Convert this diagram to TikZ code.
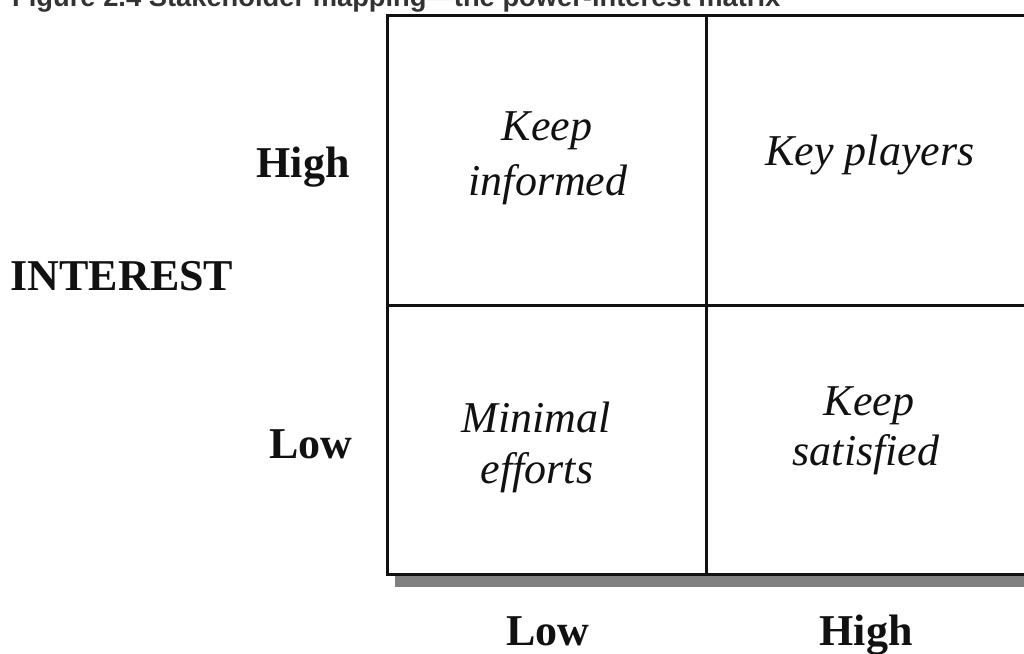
\documentclass[tikz,border=0pt]{standalone}
\usepackage{fontspec}
\setmainfont{Liberation Serif}
\newfontfamily\titlefont{Liberation Sans}
\definecolor{titlegray}{HTML}{333333}
\definecolor{shadowgray}{HTML}{808080}
\definecolor{ink}{HTML}{111111}
\tikzset{
  celltext/.style={anchor=base, inner sep=0pt, text=ink, font=\fontsize{44}{53}\selectfont\itshape},
  axistext/.style={anchor=base, inner sep=0pt, text=ink, font=\fontsize{44}{53}\selectfont\bfseries},
  frame/.style={line width=3pt, draw=ink},
}
\begin{document}
\begin{tikzpicture}[x=1pt,y=-1pt]
\useasboundingbox (0,0) rectangle (1024,653);
\clip (0,0) rectangle (1024,653);
\fill[white] (0,0) rectangle (1024,653);
% title (cut at top, as in the reference)
\node[anchor=base west, inner sep=0pt, text=titlegray] (title) at (12,6)
  {\resizebox{768pt}{!}{\titlefont\bfseries Figure 2.4 Stakeholder mapping—the power-interest matrix}};
% shadow
\fill[shadowgray] (395,574) rectangle (1040,587);
% matrix frame
\coordinate (tl) at (387,15);
\coordinate (br) at (1040,574);
\fill[white] (tl) rectangle (br);
\draw[frame] (tl) rectangle (br);
\coordinate (vt) at (706,15);
\coordinate (vb) at (706,574);
\coordinate (hl) at (387,305);
\coordinate (hr) at (1040,305);
\draw[frame] (vt) -- (vb);
\draw[frame] (hl) -- (hr);
% cell texts
\node[celltext] (ki1) at (547,140) {Keep};
\node[celltext] (ki2) at (548,195) {informed};
\node[celltext] (kp) at (870,165) {Key players};
\node[celltext] (me1) at (536,432) {Minimal};
\node[celltext] (me2) at (537,483) {efforts};
\node[celltext] (ks1) at (869,415) {Keep};
\node[celltext] (ks2) at (866,465) {satisfied};
% axis labels
\node[axistext] (yhigh) at (303,177) {High};
\node[axistext] (ylow) at (311,458) {Low};
\node[axistext] (yint) at (122,290) {INTEREST};
\node[axistext] (xlow) at (548,645) {Low};
\node[axistext] (xhigh) at (866,645) {High};
\end{tikzpicture}
\end{document}
